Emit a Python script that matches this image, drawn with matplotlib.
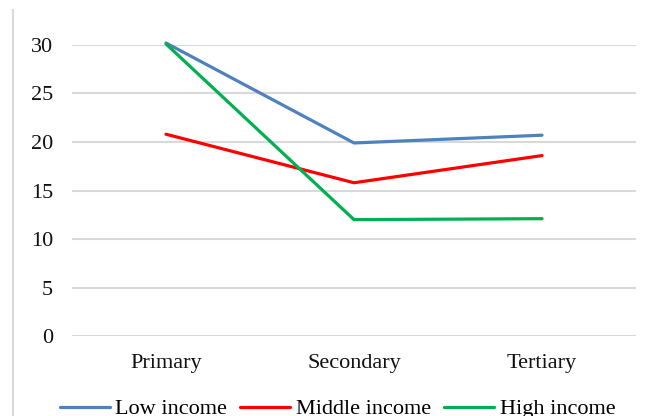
import matplotlib
matplotlib.use("Agg")
import matplotlib.pyplot as plt
from matplotlib.lines import Line2D

categories = ["Primary", "Secondary", "Tertiary"]
low_income = [30.2, 19.9, 20.7]
middle_income = [20.8, 15.8, 18.6]
high_income = [30.1, 12.0, 12.1]
yticks = [0, 5, 10, 15, 20, 25, 30]

plt.rcParams['font.family'] = ['Liberation Serif', 'DejaVu Serif']

fig = plt.figure(figsize=(6.49, 4.16), dpi=100)
ax = fig.add_axes([0.111, 0.192, 0.869, 0.700])

x = range(len(categories))
ax.plot(x, low_income, color='#4f81bd', linewidth=2.3, label='Low income', clip_on=False, solid_capstyle='round')
ax.plot(x, middle_income, color='#ff0000', linewidth=2.3, label='Middle income', clip_on=False, solid_capstyle='round')
ax.plot(x, high_income, color='#00b050', linewidth=2.3, label='High income', clip_on=False, solid_capstyle='round')

ax.set_xlim(-0.5, 2.5)
ax.set_ylim(0, 30)
ax.set_yticks(yticks)
ax.set_xticks(list(x))
ax.set_xticklabels(categories)
ax.yaxis.grid(True, color='#d9d9d9', linewidth=1.5)
ax.set_axisbelow(True)
for s in ax.spines.values():
    s.set_visible(False)
ax.tick_params(axis='both', length=0, labelsize=16, colors='#111111')
ax.tick_params(axis='y', pad=13.5)
ax.tick_params(axis='x', pad=13)

# chart border on the left
fig.add_artist(Line2D([13 / 649, 13 / 649], [0, 1 - 10 / 416], color='#d9d9d9', linewidth=1.5))

ax.legend(loc='center', bbox_to_anchor=(0.52, 7 / 416), bbox_transform=fig.transFigure,
          ncol=3, frameon=False, fontsize=16, handlelength=2.25, handletextpad=0.25,
          columnspacing=0.6, borderpad=0, borderaxespad=0)

fig.savefig("out.png", dpi=100)
